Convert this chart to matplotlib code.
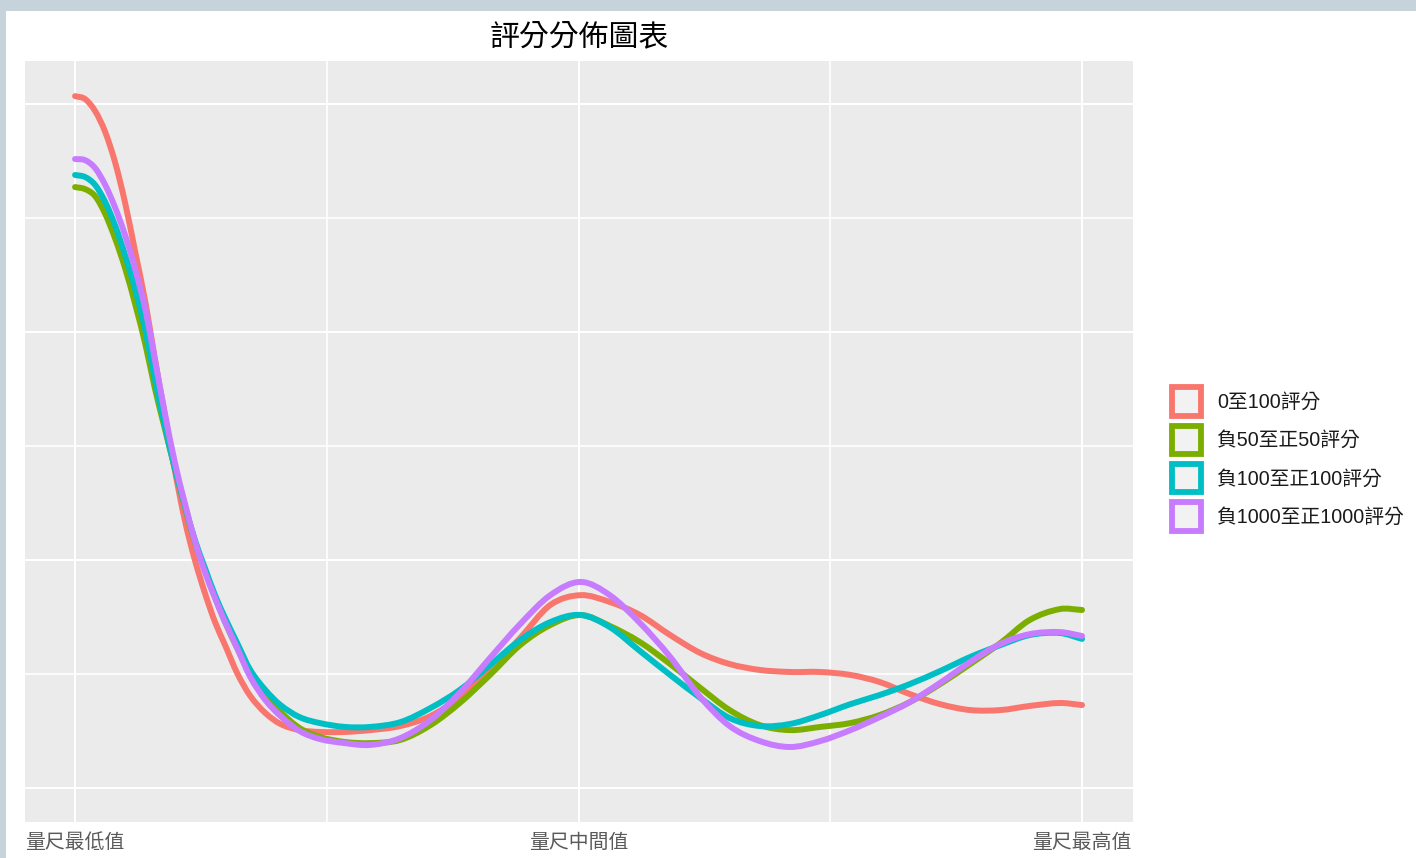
import matplotlib
matplotlib.use("Agg")
import matplotlib.pyplot as plt
from matplotlib.patches import Patch, Rectangle, PathPatch
from matplotlib.path import Path

# ---- data ----
x_pos = [0.000, 0.010, 0.020, 0.030, 0.040, 0.050, 0.060, 0.070, 0.079, 0.089,
         0.099, 0.109, 0.119, 0.129, 0.139, 0.149, 0.161, 0.174, 0.189, 0.204,
         0.223, 0.243, 0.268, 0.293, 0.323, 0.353, 0.382, 0.412, 0.442, 0.472,
         0.502, 0.531, 0.561, 0.591, 0.621, 0.650, 0.680, 0.710, 0.740, 0.770,
         0.799, 0.829, 0.859, 0.889, 0.919, 0.948, 0.978, 1.000]

red = [3.035, 3.022, 2.969, 2.877, 2.741, 2.561, 2.346, 2.127, 1.890, 1.640,
       1.395, 1.175, 1.000, 0.855, 0.728, 0.627, 0.504, 0.404, 0.329, 0.281,
       0.254, 0.246, 0.246, 0.254, 0.272, 0.316, 0.399, 0.518, 0.658, 0.803,
       0.846, 0.816, 0.759, 0.671, 0.592, 0.544, 0.518, 0.509, 0.509, 0.496,
       0.465, 0.412, 0.368, 0.342, 0.342, 0.360, 0.373, 0.364]

green = [2.636, 2.627, 2.596, 2.518, 2.408, 2.276, 2.118, 1.943, 1.759, 1.579,
         1.404, 1.237, 1.079, 0.956, 0.838, 0.728, 0.614, 0.496, 0.399, 0.333,
         0.263, 0.224, 0.202, 0.197, 0.211, 0.276, 0.373, 0.496, 0.627, 0.715,
         0.759, 0.711, 0.640, 0.544, 0.439, 0.342, 0.276, 0.254, 0.268, 0.285,
         0.320, 0.377, 0.456, 0.544, 0.636, 0.737, 0.785, 0.781]

cyan = [2.689, 2.680, 2.645, 2.570, 2.465, 2.333, 2.184, 2.004, 1.798, 1.592,
        1.404, 1.241, 1.088, 0.965, 0.846, 0.746, 0.636, 0.518, 0.430, 0.364,
        0.311, 0.285, 0.268, 0.268, 0.289, 0.351, 0.430, 0.539, 0.649, 0.728,
        0.759, 0.706, 0.601, 0.496, 0.395, 0.307, 0.272, 0.281, 0.320, 0.368,
        0.408, 0.456, 0.513, 0.575, 0.627, 0.671, 0.680, 0.654]

purple = [2.759, 2.754, 2.719, 2.645, 2.544, 2.421, 2.272, 2.096, 1.886, 1.649,
          1.430, 1.250, 1.083, 0.947, 0.833, 0.728, 0.614, 0.487, 0.386, 0.316,
          0.250, 0.215, 0.197, 0.189, 0.219, 0.298, 0.417, 0.570, 0.719, 0.846,
          0.904, 0.846, 0.724, 0.575, 0.399, 0.272, 0.206, 0.180, 0.206, 0.254,
          0.311, 0.377, 0.461, 0.553, 0.632, 0.675, 0.684, 0.667]

series_labels = ["0至100評分", "負50至正50評分", "負100至正100評分", "負1000至正1000評分"]
series_colors = ["#F8766D", "#7CAE00", "#00BFC4", "#C77CFF"]
tick_vals = [0.0, 0.5, 1.0]
tick_labels = ["量尺最低值", "量尺中間值", "量尺最高值"]
title = "評分分佈圖表"


def smooth_path(xs, ys):
    """Cubic Hermite (Bezier) path passing through every data point."""
    n = len(xs)
    slopes = []
    for i in range(n):
        if i == 0:
            m = (ys[1] - ys[0]) / (xs[1] - xs[0])
        elif i == n - 1:
            m = (ys[-1] - ys[-2]) / (xs[-1] - xs[-2])
        else:
            m = (ys[i + 1] - ys[i - 1]) / (xs[i + 1] - xs[i - 1])
        slopes.append(m)
    verts = [(xs[0], ys[0])]
    codes = [Path.MOVETO]
    for i in range(n - 1):
        h = xs[i + 1] - xs[i]
        verts += [(xs[i] + h / 3, ys[i] + slopes[i] * h / 3),
                  (xs[i + 1] - h / 3, ys[i + 1] - slopes[i + 1] * h / 3),
                  (xs[i + 1], ys[i + 1])]
        codes += [Path.CURVE4] * 3
    return Path(verts, codes)


# ---- figure ----
W, H = 1416, 858
fig = plt.figure(figsize=(W / 100, H / 100), dpi=100)
fig.patch.set_facecolor("white")

# screenshot frame strips
fig.add_artist(Rectangle((0, 1 - 11 / H), 1, 11 / H, transform=fig.transFigure,
                         facecolor="#c7d3da", edgecolor="none", zorder=0))
fig.add_artist(Rectangle((0, 0), 6 / W, 1, transform=fig.transFigure,
                         facecolor="#c7d3da", edgecolor="none", zorder=0))

ax = fig.add_axes([25 / W, (H - 822) / H, 1108 / W, 761 / H])
ax.set_facecolor("#EBEBEB")
for s in ax.spines.values():
    s.set_visible(False)

for xv in [0.0, 0.5, 1.0]:
    ax.axvline(xv, color="white", lw=1.5, zorder=1)
for xv in [0.25, 0.75]:
    ax.axvline(xv, color="white", lw=1.2, zorder=1)
for yv in [0, 1, 2, 3]:
    ax.axhline(yv, color="white", lw=1.5, zorder=1)
for yv in [0.5, 1.5, 2.5]:
    ax.axhline(yv, color="white", lw=1.2, zorder=1)

for ys, c in zip([red, green, cyan, purple], series_colors):
    ax.add_patch(PathPatch(smooth_path(x_pos, ys), facecolor="none", edgecolor=c,
                           lw=4.3, capstyle="round", joinstyle="round", zorder=3))

ax.set_xlim(-0.0497, 1.0506)
ax.set_ylim(-0.149, 3.189)
ax.set_xticks(tick_vals)
ax.set_xticklabels(tick_labels, family=["Noto Sans CJK TC", "DejaVu Sans"],
                   fontsize=14.3, color="#5a5a5a")
ax.set_yticks([])
ax.tick_params(axis="x", length=0, pad=7.5)

fig.text(579 / W, 1 - 37 / H, title, ha="center", va="center",
         fontsize=21.5, family=["Noto Sans CJK TC", "DejaVu Sans"], color="black")

handles = [Patch(facecolor="#F2F2F2", edgecolor=c, linewidth=4.2) for c in series_colors]
leg = fig.legend(handles, series_labels, loc="center left",
                 bbox_to_anchor=(1172 / W, 1 - 459 / H), bbox_transform=fig.transFigure,
                 frameon=False, handlelength=1.45, handleheight=1.85,
                 labelspacing=0.5, handletextpad=0.85, borderpad=0, borderaxespad=0,
                 prop={"family": ["Liberation Sans", "Noto Sans CJK TC"], "size": 14.2})
for t in leg.get_texts():
    t.set_color("#1a1a1a")

fig.savefig("out.png", dpi=100, facecolor=fig.get_facecolor())
